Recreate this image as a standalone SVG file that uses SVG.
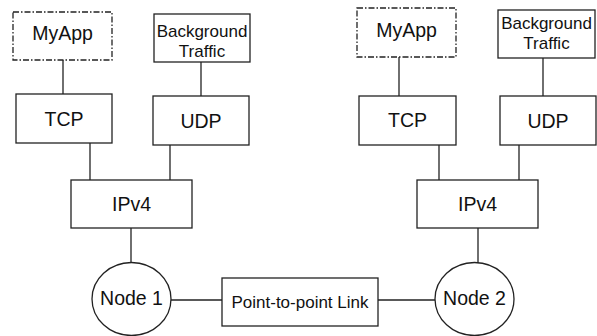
<svg xmlns="http://www.w3.org/2000/svg" width="597" height="336" viewBox="0 0 597 336">
<style>
.b{fill:#fff;stroke:#222;stroke-width:1.3}
.d{fill:#fff;stroke:#222;stroke-width:1.3;stroke-dasharray:6 2 1.5 2}
.t{font-family:"Liberation Sans",Arial,sans-serif;font-size:19.5px;fill:#111;text-anchor:middle}
.s{font-family:"Liberation Sans",Arial,sans-serif;font-size:17px;fill:#111;text-anchor:middle}
#connectors line{stroke:#222;stroke-width:1.3}
</style>
<rect width="597" height="336" fill="#fff"/>
<g id="connectors">
<line x1="63" y1="60" x2="63" y2="94"/>
<line x1="201" y1="62" x2="201" y2="96"/>
<line x1="90" y1="143" x2="90" y2="180"/>
<line x1="170" y1="145" x2="170" y2="180"/>
<line x1="131" y1="228" x2="131" y2="262"/>
<line x1="171" y1="300" x2="222" y2="300"/>
<line x1="378" y1="300" x2="435" y2="300"/>
<line x1="399" y1="57" x2="399" y2="96"/>
<line x1="543" y1="58" x2="543" y2="96"/>
<line x1="439" y1="145" x2="439" y2="180"/>
<line x1="519" y1="145" x2="519" y2="180"/>
<line x1="478" y1="228" x2="478" y2="263"/>
</g>
<g id="myapp1"><rect class="d" x="13" y="12" width="99" height="48"/><text class="t" x="62.5" y="40">MyApp</text></g>
<g id="bg1"><rect class="b" x="154" y="14" width="96" height="48"/><text class="s" x="202" y="37">Background</text><text class="s" x="202" y="57">Traffic</text></g>
<g id="tcp1"><rect class="b" x="16" y="94" width="96" height="49"/><text class="t" x="64" y="126">TCP</text></g>
<g id="udp1"><rect class="b" x="153" y="96" width="96" height="49"/><text class="t" x="201" y="128">UDP</text></g>
<g id="ipv41"><rect class="b" x="71" y="180" width="121" height="48"/><text class="t" x="131.5" y="211">IPv4</text></g>
<g id="node1"><ellipse class="b" cx="131.5" cy="299" rx="39.5" ry="36.5"/><text class="t" x="131.5" y="305">Node 1</text></g>
<g id="link"><rect class="b" x="222" y="278" width="156" height="48"/><text class="s" x="300" y="308">Point-to-point Link</text></g>
<g id="myapp2"><rect class="d" x="357" y="8" width="99" height="49"/><text class="t" x="406.5" y="37">MyApp</text></g>
<g id="bg2"><rect class="b" x="498" y="10" width="97" height="48"/><text class="s" x="546.5" y="29">Background</text><text class="s" x="546.5" y="49">Traffic</text></g>
<g id="tcp2"><rect class="b" x="359" y="96" width="97" height="49"/><text class="t" x="407.5" y="127">TCP</text></g>
<g id="udp2"><rect class="b" x="500" y="96" width="96" height="49"/><text class="t" x="548" y="128">UDP</text></g>
<g id="ipv42"><rect class="b" x="417" y="180" width="121" height="48"/><text class="t" x="477.5" y="211">IPv4</text></g>
<g id="node2"><ellipse class="b" cx="474.5" cy="299" rx="39.5" ry="36.5"/><text class="t" x="474.5" y="305">Node 2</text></g>
</svg>
